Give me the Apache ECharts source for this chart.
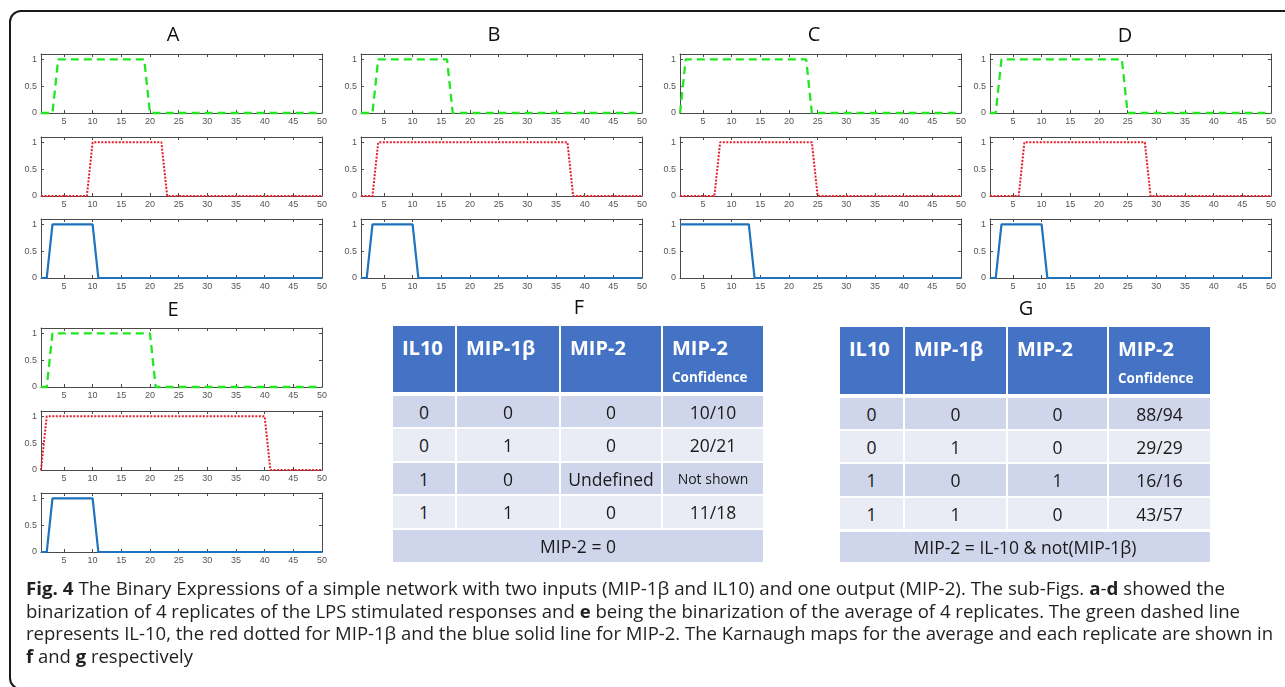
<!DOCTYPE html>
<html>
<head>
<meta charset="utf-8">
<script src="https://cdn.jsdelivr.net/npm/echarts@6/dist/echarts.min.js"></script>
<style>
  html, body { margin: 0; padding: 0; background: #fff; }
  body { width: 1285px; height: 687px; position: relative; overflow: hidden; font-family: 'Open Sans', sans-serif; }
  #frame { position: absolute; left: 9px; top: 10px; width: 1300px; height: 680px; border: 2px solid #1a1a1a; border-radius: 12px; box-sizing: border-box; }
  #chart { position: absolute; left: 0; top: 0; width: 1285px; height: 687px; }
  .cell { position: absolute; box-sizing: border-box; color: #1a1a1a; font-size: 17.5px; display: flex; align-items: center; justify-content: center; white-space: nowrap; }
  .head { background: #4472c4; color: #fff; font-weight: 700; font-size: 20px; line-height: 22px; flex-direction: column; align-items: flex-start; justify-content: flex-start; padding: 11px 0 0 9px; }
  .head small { font-size: 13.5px; line-height: 16px; margin-top: 10px; }
  .dark { background: #cfd5ea; }
  .light { background: #e9ebf5; }
  .small { font-size: 14px; }
  #caption { position: absolute; left: 26px; top: 577px; font-size: 18px; line-height: 22.7px; color: #231f20; }
  #caption div { white-space: nowrap; transform-origin: 0 0; }
</style>
</head>
<body>
<div id="frame"></div>
<div id="chart"></div>
<div id="tables"></div>
<div id="caption"></div>
<script>
// time steps on the x axis
const timePoints = [1,2,3,4,5,6,7,8,9,10,11,12,13,14,15,16,17,18,19,20,21,22,23,24,25,
                    26,27,28,29,30,31,32,33,34,35,36,37,38,39,40,41,42,43,44,45,46,47,48,49,50];
const xTickValues = [5, 10, 15, 20, 25, 30, 35, 40, 45, 50];
const yTickValues = [0, 0.5, 1];

// binarized expression, one value per time step
const il10A  = [0,0,0,1,1,1,1,1,1,1, 1,1,1,1,1,1,1,1,1,0, 0,0,0,0,0,0,0,0,0,0, 0,0,0,0,0,0,0,0,0,0, 0,0,0,0,0,0,0,0,0,0];
const mip1bA = [0,0,0,0,0,0,0,0,0,1, 1,1,1,1,1,1,1,1,1,1, 1,1,0,0,0,0,0,0,0,0, 0,0,0,0,0,0,0,0,0,0, 0,0,0,0,0,0,0,0,0,0];
const mip2A  = [0,0,1,1,1,1,1,1,1,1, 0,0,0,0,0,0,0,0,0,0, 0,0,0,0,0,0,0,0,0,0, 0,0,0,0,0,0,0,0,0,0, 0,0,0,0,0,0,0,0,0,0];

const il10B  = [0,0,0,1,1,1,1,1,1,1, 1,1,1,1,1,1,0,0,0,0, 0,0,0,0,0,0,0,0,0,0, 0,0,0,0,0,0,0,0,0,0, 0,0,0,0,0,0,0,0,0,0];
const mip1bB = [0,0,0,1,1,1,1,1,1,1, 1,1,1,1,1,1,1,1,1,1, 1,1,1,1,1,1,1,1,1,1, 1,1,1,1,1,1,1,0,0,0, 0,0,0,0,0,0,0,0,0,0];
const mip2B  = [0,0,1,1,1,1,1,1,1,1, 0,0,0,0,0,0,0,0,0,0, 0,0,0,0,0,0,0,0,0,0, 0,0,0,0,0,0,0,0,0,0, 0,0,0,0,0,0,0,0,0,0];

const il10C  = [0,1,1,1,1,1,1,1,1,1, 1,1,1,1,1,1,1,1,1,1, 1,1,1,0,0,0,0,0,0,0, 0,0,0,0,0,0,0,0,0,0, 0,0,0,0,0,0,0,0,0,0];
const mip1bC = [0,0,0,0,0,0,0,1,1,1, 1,1,1,1,1,1,1,1,1,1, 1,1,1,1,0,0,0,0,0,0, 0,0,0,0,0,0,0,0,0,0, 0,0,0,0,0,0,0,0,0,0];
const mip2C  = [1,1,1,1,1,1,1,1,1,1, 1,1,1,0,0,0,0,0,0,0, 0,0,0,0,0,0,0,0,0,0, 0,0,0,0,0,0,0,0,0,0, 0,0,0,0,0,0,0,0,0,0];

const il10D  = [0,0,1,1,1,1,1,1,1,1, 1,1,1,1,1,1,1,1,1,1, 1,1,1,1,0,0,0,0,0,0, 0,0,0,0,0,0,0,0,0,0, 0,0,0,0,0,0,0,0,0,0];
const mip1bD = [0,0,0,0,0,0,1,1,1,1, 1,1,1,1,1,1,1,1,1,1, 1,1,1,1,1,1,1,1,0,0, 0,0,0,0,0,0,0,0,0,0, 0,0,0,0,0,0,0,0,0,0];
const mip2D  = [0,0,1,1,1,1,1,1,1,1, 0,0,0,0,0,0,0,0,0,0, 0,0,0,0,0,0,0,0,0,0, 0,0,0,0,0,0,0,0,0,0, 0,0,0,0,0,0,0,0,0,0];

const il10E  = [0,0,1,1,1,1,1,1,1,1, 1,1,1,1,1,1,1,1,1,1, 0,0,0,0,0,0,0,0,0,0, 0,0,0,0,0,0,0,0,0,0, 0,0,0,0,0,0,0,0,0,0];
const mip1bE = [0,1,1,1,1,1,1,1,1,1, 1,1,1,1,1,1,1,1,1,1, 1,1,1,1,1,1,1,1,1,1, 1,1,1,1,1,1,1,1,1,1, 0,0,0,0,0,0,0,0,0,0];
const mip2E  = [0,0,1,1,1,1,1,1,1,1, 0,0,0,0,0,0,0,0,0,0, 0,0,0,0,0,0,0,0,0,0, 0,0,0,0,0,0,0,0,0,0, 0,0,0,0,0,0,0,0,0,0];

const panelLabels = ['A', 'B', 'C', 'D', 'E'];
const panelSeries = [
    [il10A, mip1bA, mip2A],
    [il10B, mip1bB, mip2B],
    [il10C, mip1bC, mip2C],
    [il10D, mip1bD, mip2D],
    [il10E, mip1bE, mip2E],
];

// Karnaugh map tables
const tableHeaders = ['IL10', 'MIP-1β', 'MIP-2', 'MIP-2'];
const confidenceNote = 'Confidence';
const fRows = [
    ['0', '0', '0', '10/10'],
    ['0', '1', '0', '20/21'],
    ['1', '0', 'Undefined', 'Not shown'],
    ['1', '1', '0', '11/18'],
];
const fFooter = 'MIP-2 = 0';
const gRows = [
    ['0', '0', '0', '88/94'],
    ['0', '1', '0', '29/29'],
    ['1', '0', '1', '16/16'],
    ['1', '1', '0', '43/57'],
];
const gFooter = 'MIP-2 = IL-10 & not(MIP-1β)';

// layout
const panelLeft = [41, 361, 680, 990, 41];
const panelTop = [54, 54, 54, 54, 328];
const rowOffset = [0, 83, 165];
const plotW = 281, plotH = 59;
const titlePos = [[173, 35], [494, 35], [814, 35], [1125, 36], [173, 310]];

const lineStyles = [
    { color: '#22e622', width: 2.3, type: [8, 5] },
    { color: '#e3202a', width: 2, type: [2, 1.5] },
    { color: '#1f72bd', width: 2.2, type: 'solid' },
];

const axisColor = '#4a4a4a';
const labelStyle = { fontSize: 9, color: '#555', fontFamily: 'Liberation Sans, Arial, sans-serif' };

const grid = [], xAxis = [], yAxis = [], series = [], graphic = [];
panelSeries.forEach((rows, p) => {
    rows.forEach((values, r) => {
        const g = grid.length;
        grid.push({ left: panelLeft[p], top: panelTop[p] + rowOffset[r], width: plotW, height: plotH, containLabel: false, outerBoundsMode: 'none' });
        const tick = { show: true, inside: true, length: 3, lineStyle: { color: axisColor } };
        xAxis.push({
            type: 'value', gridIndex: g, min: 1, max: 50, position: 'bottom',
            axisLine: { onZero: false, lineStyle: { color: axisColor, width: 1 } },
            axisTick: Object.assign({ customValues: xTickValues }, tick),
            axisLabel: Object.assign({ customValues: xTickValues, margin: 4 }, labelStyle),
            splitLine: { show: false },
        });
        xAxis.push({
            type: 'value', gridIndex: g, min: 1, max: 50, position: 'top',
            axisLine: { onZero: false, lineStyle: { color: axisColor, width: 1 } },
            axisTick: Object.assign({ customValues: xTickValues }, tick),
            axisLabel: { show: false },
            splitLine: { show: false },
        });
        yAxis.push({
            type: 'value', gridIndex: g, min: 0, max: 1.1, position: 'left',
            axisLine: { show: true, onZero: false, lineStyle: { color: axisColor, width: 1 } },
            axisTick: Object.assign({ customValues: yTickValues }, tick),
            axisLabel: Object.assign({ customValues: yTickValues, margin: 4 }, labelStyle),
            splitLine: { show: false },
        });
        yAxis.push({
            type: 'value', gridIndex: g, min: 0, max: 1.1, position: 'right',
            axisLine: { show: true, onZero: false, lineStyle: { color: axisColor, width: 1 } },
            axisTick: Object.assign({ customValues: yTickValues }, tick),
            axisLabel: { show: false },
            splitLine: { show: false },
        });
        series.push({
            type: 'line', xAxisIndex: 2 * g, yAxisIndex: 2 * g,
            data: values.map((v, i) => [timePoints[i], v]),
            symbol: 'none', clip: false, silent: true,
            lineStyle: lineStyles[r],
        });
    });
    graphic.push({
        type: 'text', x: titlePos[p][0], y: titlePos[p][1],
        style: { text: panelLabels[p], align: 'center', verticalAlign: 'middle', fontSize: 20, fontFamily: 'Open Sans', fill: '#111' },
    });
});
graphic.push({ type: 'text', x: 579, y: 308, style: { text: 'F', align: 'center', verticalAlign: 'middle', fontSize: 20, fontFamily: 'Open Sans', fill: '#111' } });
graphic.push({ type: 'text', x: 1026, y: 309, style: { text: 'G', align: 'center', verticalAlign: 'middle', fontSize: 20, fontFamily: 'Open Sans', fill: '#111' } });

const chart = echarts.init(document.getElementById('chart'));
chart.setOption({ animation: false, grid, xAxis, yAxis, series, graphic });

// tables
function drawTable(colX, rowY, rows, footer) {
    const box = document.getElementById('tables');
    const add = (x0, x1, y0, y1, cls, html) => {
        const d = document.createElement('div');
        d.className = 'cell ' + cls;
        d.style.left = x0 + 'px'; d.style.top = y0 + 'px';
        d.style.width = (x1 - x0) + 'px'; d.style.height = (y1 - y0) + 'px';
        d.innerHTML = html;
        box.appendChild(d);
    };
    tableHeaders.forEach((h, c) => {
        const txt = c === 3 ? '<span>' + h + '</span><small>' + confidenceNote + '</small>' : '<span>' + h + '</span>';
        add(colX[c][0], colX[c][1], rowY[0][0], rowY[0][1], 'head', txt);
    });
    rows.forEach((row, r) => {
        row.forEach((v, c) => {
            const cls = (r % 2 === 0 ? 'dark' : 'light') + (v === 'Not shown' ? ' small' : '');
            add(colX[c][0], colX[c][1], rowY[r + 1][0], rowY[r + 1][1], cls, v.replace('&', '&amp;'));
        });
    });
    add(colX[0][0], colX[3][1], rowY[5][0], rowY[5][1], 'dark', footer.replace('&', '&amp;'));
}
drawTable([[393, 455], [457, 559], [561, 661], [663, 763]],
          [[326, 392], [396, 427], [429, 461], [463, 494], [496, 528], [530, 562]], fRows, fFooter);
drawTable([[840, 903], [905, 1006], [1008, 1107], [1109, 1210]],
          [[327, 394], [398, 429], [431, 462], [464, 496], [498, 529], [532, 562]], gRows, gFooter);

// caption
const captionLines = [
    '<b>Fig. 4</b> The Binary Expressions of a simple network with two inputs (MIP-1β and IL10) and one output (MIP-2). The sub-Figs. <b>a</b>-<b>d</b> showed the',
    'binarization of 4 replicates of the LPS stimulated responses and <b>e</b> being the binarization of the average of 4 replicates. The green dashed line',
    'represents IL-10, the red dotted for MIP-1β and the blue solid line for MIP-2. The Karnaugh maps for the average and each replicate are shown in',
    '<b>f</b> and <b>g</b> respectively',
];
const captionWidth = [1199, 1214, 1247, 167];
const cap = document.getElementById('caption');
captionLines.forEach((html, i) => {
    const d = document.createElement('div');
    const s = document.createElement('span');
    s.innerHTML = html;
    d.appendChild(s);
    cap.appendChild(d);
    const w = s.getBoundingClientRect().width;
    d.style.transform = 'scaleX(' + (captionWidth[i] / w).toFixed(4) + ')';
});
</script>
</body>
</html>
